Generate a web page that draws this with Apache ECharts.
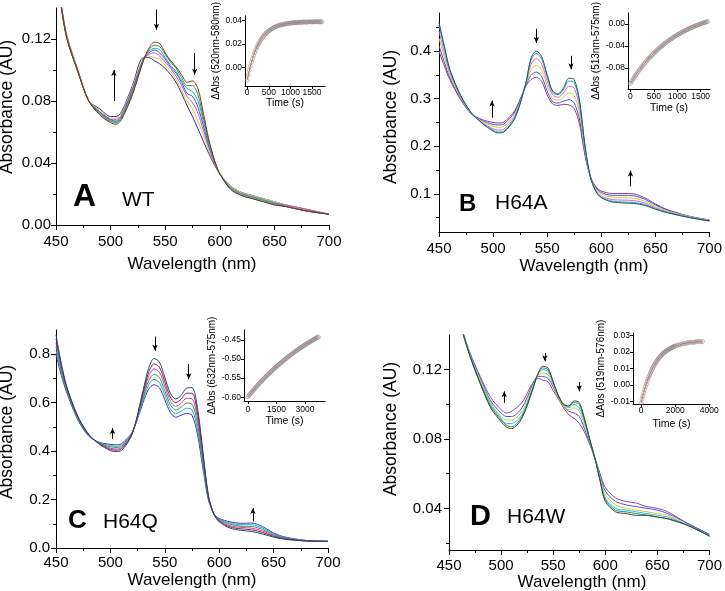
<!DOCTYPE html>
<html>
<head>
<meta charset="utf-8">
<script src="https://cdn.jsdelivr.net/npm/echarts@6/dist/echarts.min.js"></script>
<style>
  html, body { margin: 0; padding: 0; background: #fff; }
  #chart { width: 725px; height: 591px; }
</style>
</head>
<body>
<div id="chart"></div>
<script>
// wavelengths (nm) shared by all four panels
var wavelengths = [450,455,460,470,480,490,500,505,510,520,530,535,540,545,550,555,560,565,570,575,580,585,590,595,600,610,620,630,640,650,660,680,700];
var wlTicks = [450,500,550,600,650,700];
var wlMinor = [475,525,575,625,675];

// spectra, first = start of the reaction, last = end
var absA = [
  [0.165,0.140,0.120,0.099,0.080,0.071,0.066,0.065,0.068,0.084,0.106,0.114,0.118,0.117,0.111,0.106,0.102,0.097,0.092,0.093,0.088,0.072,0.055,0.042,0.033,0.023,0.019,0.017,0.015,0.013,0.012,0.009,0.007],
  [0.165,0.140,0.120,0.099,0.080,0.072,0.067,0.066,0.069,0.085,0.106,0.113,0.116,0.115,0.110,0.105,0.101,0.095,0.090,0.090,0.084,0.069,0.054,0.042,0.033,0.023,0.019,0.017,0.015,0.013,0.012,0.009,0.007],
  [0.165,0.140,0.121,0.099,0.080,0.072,0.067,0.067,0.070,0.086,0.107,0.112,0.114,0.113,0.108,0.103,0.099,0.093,0.088,0.086,0.080,0.067,0.052,0.041,0.033,0.024,0.020,0.018,0.016,0.014,0.012,0.009,0.007],
  [0.165,0.140,0.121,0.099,0.080,0.073,0.068,0.067,0.070,0.087,0.107,0.111,0.113,0.111,0.107,0.102,0.098,0.092,0.085,0.083,0.076,0.064,0.051,0.041,0.033,0.024,0.020,0.018,0.016,0.014,0.012,0.009,0.007],
  [0.165,0.141,0.121,0.100,0.080,0.073,0.068,0.068,0.071,0.088,0.107,0.110,0.111,0.109,0.105,0.101,0.096,0.090,0.083,0.079,0.072,0.061,0.050,0.040,0.033,0.024,0.020,0.018,0.016,0.014,0.013,0.010,0.007],
  [0.165,0.141,0.122,0.100,0.080,0.074,0.069,0.069,0.072,0.089,0.108,0.109,0.108,0.107,0.103,0.099,0.094,0.087,0.080,0.075,0.067,0.058,0.048,0.040,0.033,0.025,0.021,0.019,0.017,0.015,0.013,0.010,0.007],
  [0.165,0.141,0.122,0.100,0.080,0.075,0.070,0.070,0.073,0.090,0.108,0.108,0.106,0.104,0.101,0.097,0.092,0.085,0.077,0.070,0.062,0.054,0.046,0.039,0.033,0.025,0.021,0.019,0.017,0.015,0.013,0.010,0.007]
];
var absB = [
  [0.460,0.410,0.362,0.307,0.270,0.248,0.232,0.228,0.230,0.258,0.330,0.385,0.400,0.388,0.350,0.316,0.310,0.322,0.343,0.340,0.295,0.200,0.135,0.105,0.092,0.083,0.081,0.080,0.076,0.068,0.061,0.051,0.043],
  [0.454,0.406,0.360,0.306,0.270,0.249,0.234,0.230,0.232,0.260,0.330,0.381,0.395,0.383,0.346,0.313,0.308,0.319,0.337,0.334,0.290,0.198,0.135,0.106,0.093,0.085,0.083,0.082,0.078,0.069,0.062,0.051,0.043],
  [0.442,0.397,0.355,0.304,0.269,0.250,0.237,0.234,0.236,0.263,0.329,0.372,0.384,0.372,0.337,0.308,0.303,0.312,0.326,0.322,0.280,0.194,0.135,0.108,0.096,0.088,0.087,0.086,0.081,0.071,0.063,0.052,0.044],
  [0.427,0.387,0.350,0.302,0.269,0.252,0.242,0.240,0.242,0.267,0.327,0.360,0.370,0.359,0.327,0.301,0.297,0.303,0.312,0.306,0.268,0.189,0.136,0.111,0.100,0.093,0.092,0.091,0.085,0.074,0.065,0.053,0.044],
  [0.412,0.376,0.344,0.300,0.268,0.254,0.246,0.245,0.247,0.272,0.326,0.349,0.356,0.346,0.316,0.294,0.291,0.295,0.298,0.291,0.255,0.184,0.136,0.113,0.103,0.097,0.097,0.096,0.089,0.077,0.067,0.053,0.045],
  [0.400,0.368,0.340,0.298,0.268,0.256,0.250,0.249,0.251,0.275,0.325,0.340,0.345,0.336,0.308,0.289,0.286,0.288,0.287,0.279,0.245,0.180,0.136,0.115,0.106,0.101,0.101,0.100,0.092,0.079,0.068,0.054,0.045]
];
var absC = [
  [0.880,0.760,0.665,0.545,0.470,0.428,0.402,0.398,0.402,0.470,0.650,0.740,0.782,0.768,0.705,0.640,0.615,0.630,0.660,0.662,0.580,0.400,0.220,0.140,0.108,0.082,0.073,0.068,0.058,0.045,0.036,0.029,0.027],
  [0.864,0.750,0.660,0.542,0.468,0.430,0.407,0.404,0.408,0.472,0.640,0.723,0.760,0.747,0.686,0.624,0.600,0.614,0.639,0.639,0.558,0.386,0.216,0.141,0.111,0.087,0.079,0.075,0.064,0.048,0.038,0.029,0.027],
  [0.848,0.740,0.655,0.539,0.467,0.431,0.412,0.409,0.413,0.473,0.630,0.706,0.739,0.726,0.668,0.608,0.585,0.597,0.618,0.616,0.536,0.372,0.212,0.141,0.114,0.092,0.085,0.082,0.070,0.052,0.040,0.030,0.027],
  [0.832,0.730,0.650,0.536,0.465,0.433,0.418,0.415,0.419,0.475,0.620,0.689,0.717,0.704,0.649,0.592,0.570,0.581,0.598,0.594,0.514,0.358,0.208,0.142,0.116,0.098,0.090,0.089,0.076,0.055,0.042,0.030,0.028],
  [0.816,0.720,0.645,0.533,0.464,0.434,0.423,0.420,0.424,0.476,0.610,0.672,0.696,0.683,0.631,0.576,0.555,0.564,0.577,0.571,0.492,0.344,0.204,0.142,0.119,0.103,0.096,0.096,0.082,0.059,0.044,0.031,0.028],
  [0.800,0.710,0.640,0.530,0.462,0.436,0.428,0.426,0.430,0.478,0.600,0.655,0.674,0.662,0.612,0.560,0.540,0.548,0.556,0.548,0.470,0.330,0.200,0.143,0.122,0.108,0.102,0.103,0.088,0.062,0.046,0.031,0.028]
];
var absD = [
  [0.175,0.160,0.148,0.128,0.112,0.098,0.090,0.087,0.086,0.092,0.108,0.117,0.122,0.121,0.113,0.105,0.100,0.099,0.102,0.101,0.092,0.080,0.069,0.056,0.044,0.038,0.037,0.036,0.036,0.035,0.034,0.030,0.024],
  [0.175,0.160,0.148,0.128,0.112,0.099,0.091,0.088,0.087,0.093,0.108,0.117,0.121,0.120,0.113,0.105,0.100,0.099,0.101,0.100,0.091,0.080,0.069,0.056,0.045,0.039,0.038,0.037,0.036,0.035,0.034,0.030,0.024],
  [0.175,0.160,0.148,0.129,0.113,0.100,0.092,0.089,0.089,0.094,0.109,0.117,0.120,0.119,0.112,0.105,0.100,0.098,0.100,0.098,0.090,0.079,0.069,0.057,0.046,0.040,0.039,0.038,0.037,0.036,0.035,0.030,0.024],
  [0.175,0.160,0.148,0.129,0.114,0.101,0.093,0.091,0.091,0.096,0.110,0.116,0.118,0.117,0.111,0.104,0.099,0.097,0.098,0.096,0.088,0.079,0.069,0.058,0.048,0.042,0.040,0.039,0.038,0.037,0.036,0.030,0.024],
  [0.175,0.160,0.148,0.129,0.115,0.102,0.095,0.093,0.093,0.098,0.111,0.116,0.116,0.115,0.110,0.104,0.099,0.096,0.095,0.093,0.086,0.078,0.069,0.059,0.050,0.044,0.042,0.041,0.040,0.039,0.037,0.031,0.025],
  [0.175,0.160,0.148,0.130,0.116,0.104,0.097,0.095,0.096,0.101,0.112,0.115,0.114,0.113,0.108,0.103,0.098,0.094,0.092,0.089,0.084,0.077,0.069,0.060,0.052,0.046,0.044,0.043,0.041,0.040,0.038,0.031,0.025]
];

var colorsA = ['#8b2a1a','#2f9a3a','#1fb0c0','#3a4fd0','#d050d0','#d8c43a','#3b2a80'];
var colorsB = ['#1e5a55','#22aacc','#e060d8','#d8c83a','#4455cc','#8a3a9a'];
var colorsC = ['#1e4e6e','#8b1a4a','#cc44aa','#3a9a3a','#22aacc','#3838c8'];
var colorsD = ['#3b4a1e','#1e8f7f','#30b8e0','#d8c83a','#4455cc','#9a40b0'];

// arrows: [wavelength, from, to]
var arrowsA = [[503,0.080,0.100],[542,0.139,0.126],[577,0.111,0.097]];
var arrowsB = [[499,0.260,0.296],[540,0.447,0.417],[572,0.390,0.362],[627,0.116,0.149]];
var arrowsC = [[502,0.451,0.495],[541,0.873,0.814],[572,0.760,0.697],[631,0.110,0.165]];
var arrowsD = [[503,0.1008,0.1075],[542,0.1296,0.1248],[575,0.1129,0.1075]];

// kinetics insets
var timeA = [0,25,50,75,100,125,150,175,200,225,250,275,300,325,350,375,400,425,450,475,500,525,550,575,600,625,650,675,700,725,750,775,800,825,850,875,900,925,950,975,1000,1025,1050,1075,1100,1125,1150,1175,1200,1225,1250,1275,1300,1325,1350,1375,1400,1425,1450,1475,1500,1525,1550,1575,1600,1625,1650,1675,1700,1725];
var dAbsA = [-0.0110,-0.0066,-0.0026,0.0011,0.0044,0.0074,0.0102,0.0128,0.0151,0.0173,0.0191,0.0209,0.0225,0.0240,0.0253,0.0265,0.0276,0.0286,0.0296,0.0304,0.0312,0.0318,0.0325,0.0331,0.0336,0.0341,0.0345,0.0349,0.0353,0.0356,0.0359,0.0362,0.0364,0.0366,0.0369,0.0370,0.0372,0.0374,0.0375,0.0376,0.0378,0.0379,0.0380,0.0381,0.0381,0.0382,0.0383,0.0384,0.0384,0.0385,0.0383,0.0386,0.0386,0.0388,0.0387,0.0385,0.0387,0.0388,0.0390,0.0388,0.0387,0.0389,0.0388,0.0390,0.0389,0.0391,0.0389,0.0388,0.0390,0.0389];
var timeB = [0,25,50,75,100,125,150,175,200,225,250,275,300,325,350,375,400,425,450,475,500,525,550,575,600,625,650,675,700,725,750,775,800,825,850,875,900,925,950,975,1000,1025,1050,1075,1100,1125,1150,1175,1200,1225,1250,1275,1300,1325,1350,1375,1400,1425,1450,1475,1500,1525,1550,1575,1600,1625,1650];
var dAbsB = [-0.1080,-0.1046,-0.1012,-0.0980,-0.0948,-0.0917,-0.0886,-0.0857,-0.0828,-0.0800,-0.0773,-0.0746,-0.0720,-0.0694,-0.0670,-0.0645,-0.0622,-0.0599,-0.0576,-0.0554,-0.0533,-0.0512,-0.0492,-0.0472,-0.0453,-0.0434,-0.0416,-0.0398,-0.0380,-0.0363,-0.0347,-0.0330,-0.0315,-0.0299,-0.0284,-0.0270,-0.0255,-0.0241,-0.0228,-0.0214,-0.0201,-0.0189,-0.0176,-0.0164,-0.0153,-0.0141,-0.0130,-0.0119,-0.0109,-0.0098,-0.0088,-0.0078,-0.0069,-0.0059,-0.0050,-0.0041,-0.0033,-0.0024,-0.0016,-0.0008,0.0000,0.0008,0.0015,0.0022,0.0029,0.0036,0.0043];
var timeC = [0,50,100,150,200,250,300,350,400,450,500,550,600,650,700,750,800,850,900,950,1000,1050,1100,1150,1200,1250,1300,1350,1400,1450,1500,1550,1600,1650,1700,1750,1800,1850,1900,1950,2000,2050,2100,2150,2200,2250,2300,2350,2400,2450,2500,2550,2600,2650,2700,2750,2800,2850,2900,2950,3000,3050,3100,3150,3200,3250,3300,3350,3400,3450,3500,3550,3600,3650,3700];
var dAbsC = [-0.5990,-0.5959,-0.5929,-0.5899,-0.5870,-0.5840,-0.5811,-0.5783,-0.5754,-0.5726,-0.5698,-0.5671,-0.5644,-0.5617,-0.5590,-0.5564,-0.5538,-0.5512,-0.5487,-0.5461,-0.5437,-0.5412,-0.5387,-0.5363,-0.5339,-0.5316,-0.5292,-0.5269,-0.5246,-0.5224,-0.5201,-0.5179,-0.5157,-0.5136,-0.5114,-0.5093,-0.5072,-0.5051,-0.5031,-0.5010,-0.4990,-0.4970,-0.4951,-0.4931,-0.4912,-0.4893,-0.4874,-0.4855,-0.4837,-0.4819,-0.4800,-0.4783,-0.4765,-0.4747,-0.4730,-0.4713,-0.4696,-0.4679,-0.4663,-0.4646,-0.4630,-0.4614,-0.4598,-0.4583,-0.4567,-0.4552,-0.4536,-0.4521,-0.4507,-0.4492,-0.4477,-0.4463,-0.4449,-0.4434,-0.4421];
var timeD = [0,50,100,150,200,250,300,350,400,450,500,550,600,650,700,750,800,850,900,950,1000,1050,1100,1150,1200,1250,1300,1350,1400,1450,1500,1550,1600,1650,1700,1750,1800,1850,1900,1950,2000,2100,2200,2300,2400,2500,2600,2700,2800,2900,3000,3100,3200,3300,3400,3500,3600];
var dAbsD = [-0.0110,-0.0085,-0.0066,-0.0046,-0.0028,-0.0010,0.0006,0.0022,0.0037,0.0050,0.0063,0.0076,0.0087,0.0098,0.0108,0.0118,0.0127,0.0135,0.0143,0.0151,0.0158,0.0164,0.0171,0.0177,0.0182,0.0187,0.0192,0.0199,0.0201,0.0205,0.0209,0.0213,0.0216,0.0219,0.0222,0.0225,0.0228,0.0230,0.0233,0.0235,0.0237,0.0241,0.0244,0.0244,0.0250,0.0252,0.0251,0.0256,0.0260,0.0259,0.0260,0.0258,0.0262,0.0266,0.0264,0.0262,0.0265];

var FONT = 'Arial, "Liberation Sans", sans-serif';
var chart = echarts.init(document.getElementById('chart'));

var grids = [], xAxes = [], yAxes = [], series = [], texts = [];

function fmt(d) { return function (v) { return d === 0 ? String(Math.round(v)) : v.toFixed(d); }; }

// plain text: x is left edge (or centre when align = 'center'), y is vertical middle
function label(str, x, y, size, bold, align, rotate) {
  texts.push({
    type: 'text', x: x, y: y, rotation: rotate ? Math.PI / 2 : 0, silent: true,
    style: { text: str, font: (bold ? 'bold ' : '') + size + 'px ' + FONT, fill: '#000',
      align: align || 'left', verticalAlign: 'middle' }
  });
}

function addAxes(dim, gi, min, max, majors, minors, o) {
  var list = dim === 'x' ? xAxes : yAxes;
  var idx = list.length;
  list.push({
    type: 'value', gridIndex: gi, min: min, max: max,
    position: dim === 'x' ? 'bottom' : 'left',
    axisLine: { show: true, onZero: false, lineStyle: { color: '#000', width: 1 } },
    axisTick: { show: true, customValues: majors, length: o.tick, lineStyle: { color: '#000' } },
    axisLabel: { customValues: majors, formatter: fmt(o.dec), fontSize: o.fs, margin: o.margin, color: '#000', fontFamily: FONT },
    splitLine: { show: false },
    name: o.name, nameLocation: 'middle', nameGap: o.gap,
    nameTextStyle: { fontSize: o.nfs, color: '#000', fontFamily: FONT }
  });
  if (minors) {
    list.push({
      type: 'value', gridIndex: gi, min: min, max: max,
      position: dim === 'x' ? 'bottom' : 'left',
      axisLine: { show: false, onZero: false }, axisLabel: { show: false }, splitLine: { show: false },
      axisTick: { show: true, customValues: minors, length: Math.max(2, o.tick - 2), lineStyle: { color: '#000' } }
    });
  }
  return idx;
}

function panel(box, yr, yMaj, yMin, yDec, yMargin, xMargin, spectra, colors, arrows) {
  var gi = grids.length;
  grids.push({ left: box[0], top: box[1], width: box[2], height: box[3] });
  var xi = addAxes('x', gi, 450, 700, wlTicks, wlMinor, { tick: 5, dec: 0, fs: 15, margin: xMargin });
  var yi = addAxes('y', gi, yr[0], yr[1], yMaj, yMin, { tick: 5, dec: yDec, fs: 15, margin: yMargin });
  for (var k = spectra.length - 1; k >= 0; k--) {
    var s = {
      type: 'line', xAxisIndex: xi, yAxisIndex: yi, symbol: 'none', smooth: 0.3,
      lineStyle: { width: 1, color: colors[k] },
      data: wavelengths.map(function (w, i) { return [w, spectra[k][i]]; })
    };
    if (k === 0) {
      s.markLine = {
        silent: true, symbol: ['none', 'arrow'], symbolSize: [4, 6], animation: false,
        lineStyle: { color: '#000', width: 1, type: 'solid' }, label: { show: false },
        data: arrows.map(function (a) { return [{ coord: [a[0], a[1]] }, { coord: [a[0], a[2]] }]; })
      };
    }
    series.push(s);
  }
}

function inset(box, xr, xMaj, yr, yMaj, name, yGap, xo, times, vals) {
  var gi = grids.length;
  grids.push({ left: box[0], top: box[1], width: box[2], height: box[3] });
  var xi = addAxes('x', gi, xr[0], xr[1], xMaj, null,
    { tick: 3, dec: 0, fs: 8.5, margin: xo.margin, name: 'Time (s)', gap: xo.gap, nfs: 10.5 });
  var yi = addAxes('y', gi, yr[0], yr[1], yMaj, null,
    { tick: 3, dec: 2, fs: 8.5, margin: 3, name: name, gap: yGap, nfs: 10 });
  var pts = times.map(function (t, i) { return [t, vals[i]]; });
  series.push({ type: 'line', xAxisIndex: xi, yAxisIndex: yi, symbol: 'none', smooth: true,
    lineStyle: { width: 1, color: '#e04848' }, data: pts, z: 1 });
  series.push({ type: 'scatter', xAxisIndex: xi, yAxisIndex: yi, symbol: 'circle', symbolSize: 4,
    itemStyle: { color: 'rgba(0,0,0,0)', borderColor: '#8c8686', borderWidth: 0.7 }, data: pts, z: 2 });
}

panel([56, 8, 273, 217], [0, 0.14], [0, 0.04, 0.08, 0.12], [0.02, 0.06, 0.10], 2, 5, 9, absA, colorsA, arrowsA);
panel([439, 13, 275, 219], [0.02, 0.48], [0.1, 0.2, 0.3, 0.4], [0.05, 0.15, 0.25, 0.35, 0.45], 1, 8, 9, absB, colorsB, arrowsB);
panel([56, 330, 272, 218], [0, 0.9], [0, 0.2, 0.4, 0.6, 0.8], [0.1, 0.3, 0.5, 0.7], 1, 6, 7, absC, colorsC, arrowsC);
panel([449, 335, 266, 215], [0.016, 0.14], [0.04, 0.08, 0.12], [0.02, 0.06, 0.10], 2, 7, 8, absD, colorsD, arrowsD);

inset([245, 10, 80, 76], [-50, 1800], [0, 500, 1000, 1500], [-0.016, 0.044], [0, 0.02, 0.04],
  '\u0394Abs (520nm-580nm)', 19, { margin: 2, gap: 12 }, timeA, dAbsA);
inset([628, 12, 82, 77], [-50, 1700], [0, 500, 1000, 1500], [-0.118, 0.02], [-0.08, -0.04, 0],
  '\u0394Abs (513nm-575nm)', 23, { margin: 3, gap: 14 }, timeB, dAbsB);
inset([244, 330, 81, 71], [-200, 4050], [0, 1500, 3000], [-0.61, -0.424], [-0.6, -0.55, -0.5, -0.45],
  '\u0394Abs (632nm-575nm)', 24, { margin: 4, gap: 15 }, timeC, dAbsC);
inset([633, 333, 77, 71], [-480, 4040], [0, 2000, 4000], [-0.0115, 0.0316], [-0.01, 0, 0.01, 0.02, 0.03],
  '\u0394Abs (519nm-576nm)', 23, { margin: 2, gap: 15 }, timeD, dAbsD);

// axis titles of the four main panels
label('Absorbance (AU)', 7, 107, 17.5, false, 'center', true);
label('Absorbance (AU)', 391, 117, 17.5, false, 'center', true);
label('Absorbance (AU)', 7, 432, 17.5, false, 'center', true);
label('Absorbance (AU)', 391, 429, 17.5, false, 'center', true);
label('Wavelength (nm)', 192, 264, 17, false, 'center');
label('Wavelength (nm)', 584, 266, 17, false, 'center');
label('Wavelength (nm)', 192, 580, 17, false, 'center');
label('Wavelength (nm)', 582, 582, 17, false, 'center');

// panel letters and variant names
label('A', 73, 197, 32, true);
label('WT', 122, 200, 21);
label('B', 459, 204, 24, true);
label('H64A', 495, 203, 21);
label('C', 68, 521, 26, true);
label('H64Q', 103, 522, 21);
label('D', 470, 517, 29, true);
label('H64W', 507, 517, 21);

chart.setOption({
  backgroundColor: '#fff',
  animation: false,
  grid: grids,
  xAxis: xAxes,
  yAxis: yAxes,
  series: series,
  graphic: texts
});
</script>
</body>
</html>
